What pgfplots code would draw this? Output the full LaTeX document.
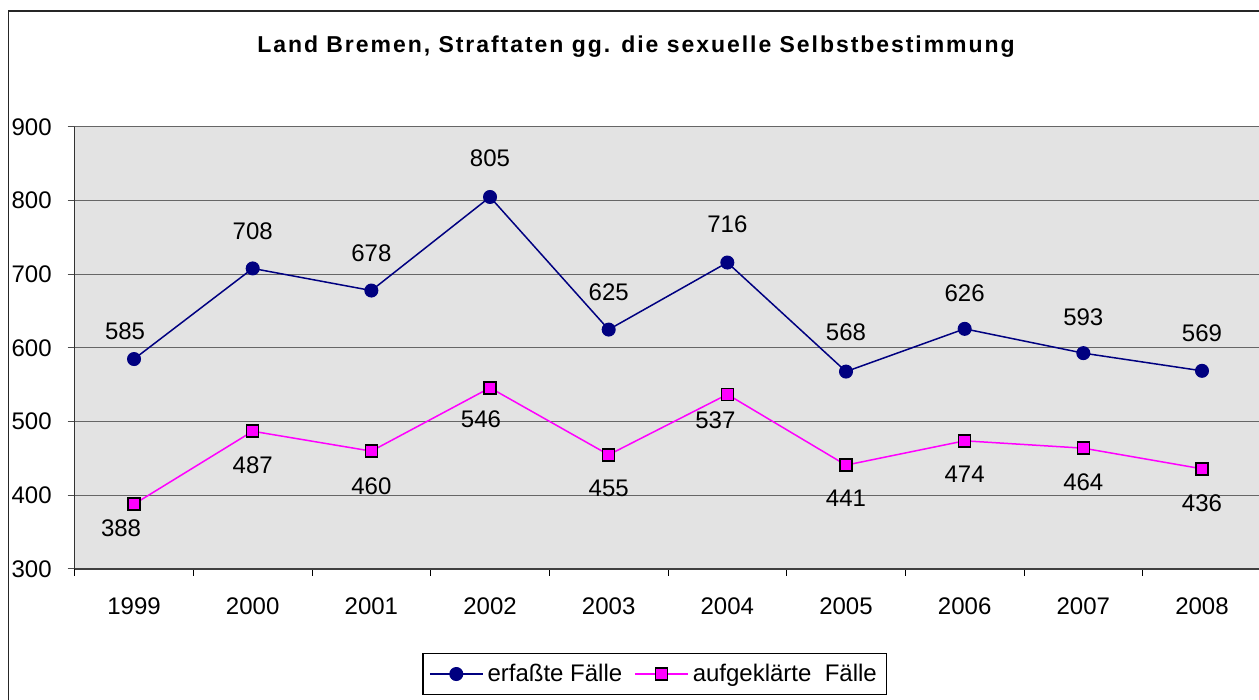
\documentclass[border=0pt]{standalone}
\usepackage{pgfplots}
\pgfplotsset{compat=1.18}
\usepackage{pgfplotstable}
\usepackage{fontspec}
\setmainfont{Liberation Sans}
\definecolor{navyc}{RGB}{0,0,128}
\definecolor{magc}{RGB}{255,0,255}
\definecolor{bgc}{RGB}{227,227,227}

\pgfplotstableread{
x y off dx
0 585 28 -9
1 708 37 0
2 678 37 0
3 805 39 0
4 625 37 0
5 716 38 0
6 568 39 0
7 626 36 0
8 593 36 0
9 569 38 0
}\tabA
\pgfplotstableread{
x y off dx
0 388 24 -13
1 487 34 0
2 460 35 0
3 546 31 -9
4 455 34 0
5 537 26 -12
6 441 33 0
7 474 33 0
8 464 34 0
9 436 34 0
}\tabB

\begin{document}
\begin{tikzpicture}
\draw[line width=0.7pt, black!85] (4.25pt,-10pt) rectangle (640pt,344.5pt);
\node[font=\fontsize{11.5}{13}\selectfont\bfseries\addfontfeature{LetterSpace=8.5}] at (318pt,326.5pt) {Land Bremen, Straftaten gg. die sexuelle Selbstbestimmung};
\begin{axis}[
  at={(37.35pt,65.5pt)}, anchor=south west,
  scale only axis, width=593.3pt, height=221pt,
  xmin=-0.5, xmax=9.5, ymin=300, ymax=900,
  axis background/.style={fill=bgc},
  axis x line*=bottom, axis y line*=left,
  x axis line style={-, line width=1pt, black!75},
  y axis line style={-, line width=0.7pt, black!80},
  ytick={300,400,...,900},
  xtick={0,...,9},
  xticklabels={1999,2000,2001,2002,2003,2004,2005,2006,2007,2008},
  minor xtick={-0.5,0.5,...,9.5},
  tick align=outside,
  major tick length=3.5pt, minor tick length=3.5pt,
  major x tick style={draw=none},
  minor x tick style={black, line width=0.5pt},
  major y tick style={black!70, line width=0.5pt},
  ymajorgrids,
  grid style={black!60, line width=0.5pt},
  /pgf/number format/assume math mode=true,
  ticklabel style={font=\fontsize{12}{14}\selectfont},
  xticklabel style={anchor=center, yshift=-18.5pt+3.5pt},
  yticklabel style={anchor=east, xshift=-4.5pt},
  legend columns=2,
  legend style={at={(0.489,-0.2376)}, anchor=center, draw=black, line width=0.6pt,
    font=\fontsize{12}{14}\selectfont, fill=white,
    /tikz/every even column/.append style={column sep=4pt}, inner sep=3pt},
  legend image code/.code={\draw[mark repeat=2,mark phase=2,#1] plot coordinates {(0pt,0pt) (13.25pt,0pt) (26.5pt,0pt)};},
  nodes near coords={\pgfplotspointmeta},
  point meta=explicit symbolic,
  visualization depends on={\thisrow{off} \as \myoff},
  visualization depends on={\thisrow{dx} \as \mydx},
  every node near coord/.append style={font=\fontsize{12}{14}\selectfont, anchor=center},
]
\addplot[navyc, line width=0.75pt, mark=*, mark size=3.25pt, mark options={fill=navyc, draw=navyc, line width=0.5pt},
  every node near coord/.append style={black, yshift=\myoff*0.5pt, xshift=\mydx*0.5pt}]
  table[x=x, y=y, meta=y] {\tabA};
\addlegendentry{erfaßte Fälle}
\addplot[magc, line width=0.75pt, mark=square*, mark size=3pt, mark options={fill=magc, draw=black, line width=0.75pt},
  every node near coord/.append style={black, yshift=-\myoff*0.5pt, xshift=\mydx*0.5pt}]
  table[x=x, y=y, meta=y] {\tabB};
\addlegendentry{aufgeklärte\ \ Fälle}
\end{axis}
\pgfresetboundingbox
\path[use as bounding box] (0,0) rectangle (629.5pt,350pt);
\end{tikzpicture}
\end{document}
